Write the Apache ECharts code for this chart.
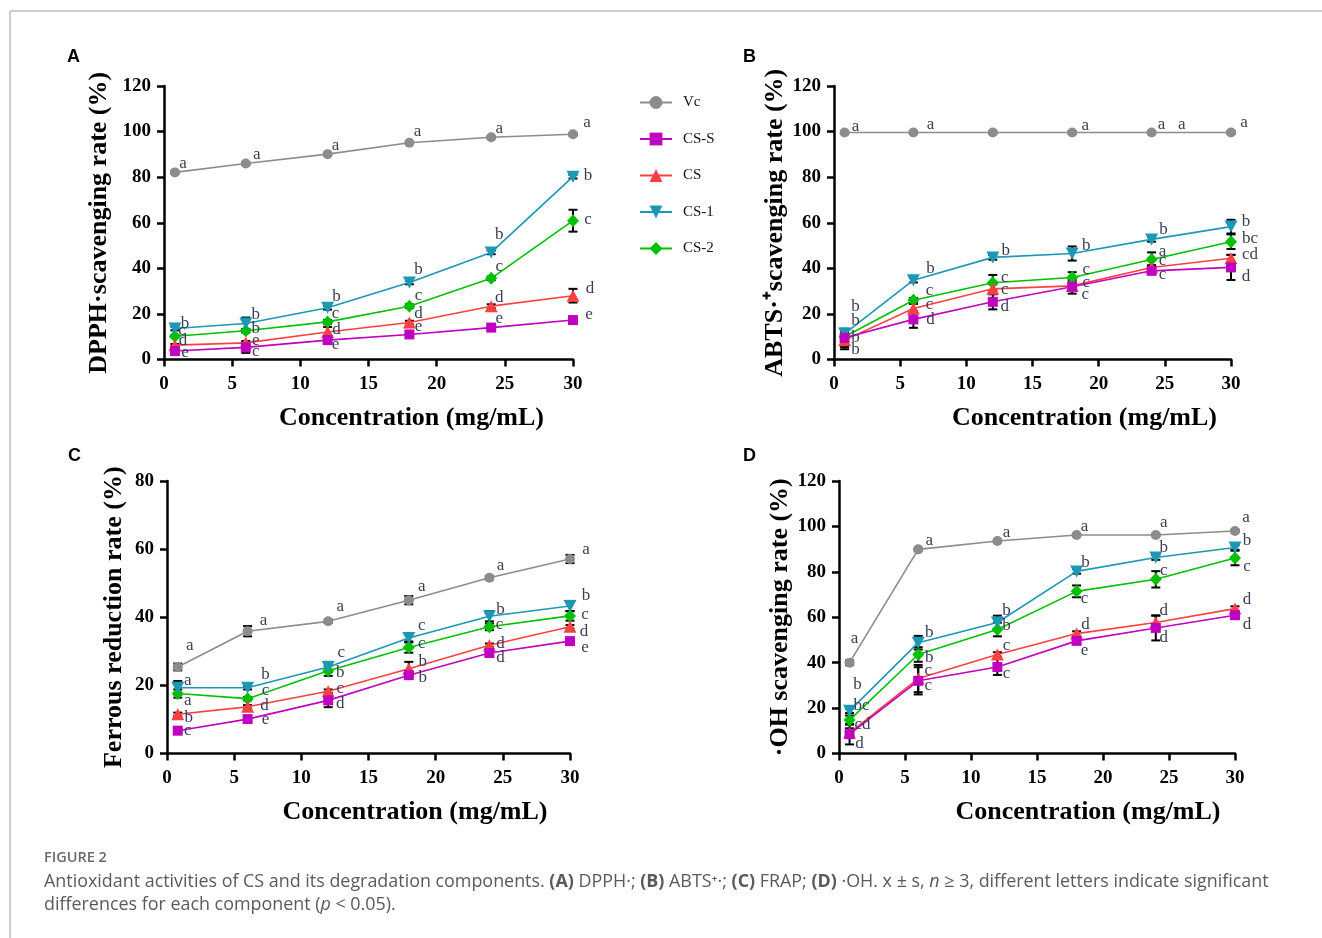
<!DOCTYPE html>
<html>
<head>
<meta charset="utf-8">
<script src="https://cdn.jsdelivr.net/npm/echarts@6/dist/echarts.min.js"></script>
<style>
html,body{margin:0;padding:0;background:#fff;}
#chart{width:1322px;height:938px;}
</style>
</head>
<body>
<div id="chart"></div>
<script>
// ---------- DATA ----------
const concentrations = [0.8, 6, 12, 18, 24, 30];
const seriesNames = ['Vc', 'CS-S', 'CS', 'CS-1', 'CS-2'];
const xTicks = [0, 5, 10, 15, 20, 25, 30];

// A: DPPH
const dpphVc  = [82.1, 86.0, 90.1, 95.1, 97.5, 98.8];
const dpphCSS = [3.7, 5.3, 8.5, 11.0, 14.0, 17.3];
const dpphCS  = [6.3, 7.3, 12.1, 16.2, 23.4, 28.0];
const dpphCS1 = [13.6, 15.8, 22.7, 33.8, 47.0, 80.2];
const dpphCS2 = [10.2, 12.6, 16.5, 23.4, 35.6, 60.9];
const dpphErrVc  = [0.5, 0.5, 0.5, 0.5, 0.5, 0.5];
const dpphErrCSS = [0.5, 2.4, 0.8, 0.5, 0.5, 0.5];
const dpphErrCS  = [0.5, 0.8, 2.2, 0.8, 0.8, 3.0];
const dpphErrCS1 = [0.8, 2.6, 0.8, 0.8, 0.8, 0.8];
const dpphErrCS2 = [0.5, 0.8, 0.8, 0.8, 0.8, 4.8];
const dpphLetVc  = ['a','a','a','a','a','a'];
const dpphLetCSS = ['e','c','e','e','e','e'];
const dpphLetCS  = ['d','e','d','d','d','d'];
const dpphLetCS1 = ['b','b','b','b','b','b'];
const dpphLetCS2 = ['c','b','c','c','c','c'];

// B: ABTS
const abtsVc  = [99.6, 99.6, 99.6, 99.6, 99.6, 99.6];
const abtsCSS = [9.5, 17.6, 25.3, 31.9, 38.9, 40.4];
const abtsCS  = [8.5, 22.4, 31.0, 32.3, 40.4, 44.4];
const abtsCS1 = [11.4, 34.8, 44.8, 46.5, 52.7, 58.3];
const abtsCS2 = [10.0, 26.0, 33.7, 36.0, 43.9, 51.7];
const abtsErrVc  = [0.5, 0.5, 0.5, 0.5, 0.5, 0.5];
const abtsErrCSS = [4.0, 3.7, 3.3, 3.0, 1.0, 5.5];
const abtsErrCS  = [4.0, 2.0, 2.0, 1.5, 1.0, 1.5];
const abtsErrCS1 = [2.0, 1.0, 1.0, 3.1, 1.0, 3.0];
const abtsErrCS2 = [2.0, 1.0, 3.4, 2.3, 3.1, 3.2];
const abtsLetVc  = ['a','a','','a','a   a','a'];
const abtsLetCSS = ['b','d','d','c','c','d'];
const abtsLetCS  = ['b','c','c','c','c','cd'];
const abtsLetCS1 = ['b','b','b','b','b','b'];
const abtsLetCS2 = ['b','c','c','c','a','bc'];

// C: FRAP
const frapVc  = [25.4, 35.9, 38.8, 45.0, 51.6, 57.1];
const frapCSS = [6.7, 10.1, 15.6, 23.0, 29.5, 33.0];
const frapCS  = [11.5, 13.7, 18.3, 24.9, 31.8, 37.2];
const frapCS1 = [19.3, 19.3, 25.4, 33.9, 40.3, 43.3];
const frapCS2 = [17.6, 16.1, 24.3, 31.1, 37.2, 40.4];
const frapErrVc  = [1.0, 1.5, 0.5, 1.2, 0.5, 1.2];
const frapErrCSS = [0.5, 0.5, 2.0, 0.5, 0.5, 0.5];
const frapErrCS  = [0.5, 0.5, 0.5, 2.0, 0.5, 0.5];
const frapErrCS1 = [2.0, 0.5, 1.5, 1.0, 1.5, 1.5];
const frapErrCS2 = [1.2, 0.5, 1.5, 1.5, 1.0, 1.4];
const frapLetVc  = ['a','a','a','a','a','a'];
const frapLetCSS = ['c','e','d','b','d','e'];
const frapLetCS  = ['b','d','c','b','d','d'];
const frapLetCS1 = ['a','b','c','c','b','b'];
const frapLetCS2 = ['a','c','b','c','c','c'];

// D: ·OH
const ohVc  = [40.0, 89.9, 93.6, 96.2, 96.2, 98.0];
const ohCSS = [8.5, 32.0, 38.1, 49.6, 55.3, 60.9];
const ohCS  = [9.1, 33.0, 43.6, 52.8, 57.7, 63.8];
const ohCS1 = [18.8, 48.8, 57.7, 80.2, 86.3, 90.7];
const ohCS2 = [14.7, 43.6, 54.6, 71.4, 76.7, 86.1];
const ohErrVc  = [1.0, 0.5, 0.5, 0.5, 0.5, 0.5];
const ohErrCSS = [4.5, 6.0, 3.5, 1.0, 5.5, 1.0];
const ohErrCS  = [2.0, 6.0, 1.0, 1.0, 3.0, 1.0];
const ohErrCS1 = [1.0, 3.0, 3.0, 1.0, 1.0, 1.0];
const ohErrCS2 = [2.0, 3.2, 3.0, 2.6, 3.6, 3.2];
const ohLetVc  = ['a','a','a','a','a','a'];
const ohLetCSS = ['d','c','c','e','d','d'];
const ohLetCS  = ['cd','c','c','d','d','d'];
const ohLetCS1 = ['b','b','b','b','b','b'];
const ohLetCS2 = ['bc','b','b','c','c','c'];

// ---------- LAYOUT / STYLE (letter offsets in px from point centre) ----------
const offA = {
  'Vc':   {dx:[8,11,8,8,8,14],  dy:[-9,-9,-9,-11,-9,-12]},
  'CS-S': {dx:[10,10,8,9,8,16], dy:[1,4,4,-8,-9,-6]},
  'CS':   {dx:[8,10,9,9,8,17],  dy:[-5,-2,-2,-9,-9,-7]},
  'CS-1': {dx:[10,10,9,9,8,15], dy:[-5,-9,-11,-13,-18,-1]},
  'CS-2': {dx:[7,10,8,9,8,15],  dy:[-6,-2,-8,-11,-12,-1]}
};
const offB = {
  'Vc':   {dx:[11,17,0,13,20,13], dy:[-6,-8,0,-7,-8,-10]},
  'CS-S': {dx:[11,17,12,13,11,15], dy:[12,0,5,8,4,9]},
  'CS':   {dx:[11,16,12,14,11,19], dy:[-3,-4,1,-3,-7,-4]},
  'CS-1': {dx:[11,17,13,14,12,15], dy:[-27,-12,-7,-8,-10,-5]},
  'CS-2': {dx:[11,16,12,14,11,19], dy:[-16,-10,-5,-8,-8,-3]}
};
const offC = {
  'Vc':   {dx:[12,16,12,13,11,16], dy:[-21,-11,-15,-14,-12,-9]},
  'CS-S': {dx:[10,18,12,14,11,15], dy:[0,0,3,2,5,6]},
  'CS':   {dx:[11,17,12,14,11,14], dy:[3,-1,-3,-7,-2,5]},
  'CS-1': {dx:[10,18,13,13,11,16], dy:[-7,-13,-14,-12,-7,-10]},
  'CS-2': {dx:[10,18,12,13,10,15], dy:[7,-8,2,-4,-2,-1]}
};
const offD = {
  'Vc':   {dx:[5,11,9,8,8,11],   dy:[-24,-9,-8,-9,-13,-13]},
  'CS-S': {dx:[10,10,9,8,8,12],  dy:[9,5,7,10,10,9]},
  'CS':   {dx:[13,10,9,9,8,12],  dy:[-8,-8,-9,-9,-12,-9]},
  'CS-1': {dx:[8,11,9,9,8,12],   dy:[-26,-10,-12,-9,-10,-7]},
  'CS-2': {dx:[12,11,9,8,8,12],  dy:[-15,3,-4,7,-9,9]}
};

const styles = {
  'Vc':   {color:'#8c8c8c', symbol:'circle',   size:10, rotate:0},
  'CS-S': {color:'#c000c0', symbol:'rect',     size:10, rotate:0},
  'CS':   {color:'#ff4040', symbol:'triangle', size:[13,12], rotate:0},
  'CS-1': {color:'#1a98b4', symbol:'triangle', size:[13,12], rotate:180},
  'CS-2': {color:'#00c000', symbol:'diamond',  size:[12,13], rotate:0}
};

const panels = [
  {vals:{'Vc':dpphVc,'CS-S':dpphCSS,'CS':dpphCS,'CS-1':dpphCS1,'CS-2':dpphCS2},
   errs:{'Vc':dpphErrVc,'CS-S':dpphErrCSS,'CS':dpphErrCS,'CS-1':dpphErrCS1,'CS-2':dpphErrCS2},
   lets:{'Vc':dpphLetVc,'CS-S':dpphLetCSS,'CS':dpphLetCS,'CS-1':dpphLetCS1,'CS-2':dpphLetCS2},
   off:offA, yMax:120, yName:'DPPH·scavenging rate (%)', yGap:52, xShift:86,
   grid:{left:164, top:86, width:409, height:273.5}},
  {vals:{'Vc':abtsVc,'CS-S':abtsCSS,'CS':abtsCS,'CS-1':abtsCS1,'CS-2':abtsCS2},
   errs:{'Vc':abtsErrVc,'CS-S':abtsErrCSS,'CS':abtsErrCS,'CS-1':abtsErrCS1,'CS-2':abtsErrCS2},
   lets:{'Vc':abtsLetVc,'CS-S':abtsLetCSS,'CS':abtsLetCS,'CS-1':abtsLetCS1,'CS-2':abtsLetCS2},
   off:offB, yMax:120, yName:'ABTS·\u207Ascavenging rate (%)', yGap:46, xShift:104,
   grid:{left:834, top:86, width:397, height:273.5}},
  {vals:{'Vc':frapVc,'CS-S':frapCSS,'CS':frapCS,'CS-1':frapCS1,'CS-2':frapCS2},
   errs:{'Vc':frapErrVc,'CS-S':frapErrCSS,'CS':frapErrCS,'CS-1':frapErrCS1,'CS-2':frapErrCS2},
   lets:{'Vc':frapLetVc,'CS-S':frapLetCSS,'CS':frapLetCS,'CS-1':frapLetCS1,'CS-2':frapLetCS2},
   off:offC, yMax:80, yName:'Ferrous reduction rate (%)', yGap:40, xShift:93,
   grid:{left:167, top:481, width:403, height:272.5}},
  {vals:{'Vc':ohVc,'CS-S':ohCSS,'CS':ohCS,'CS-1':ohCS1,'CS-2':ohCS2},
   errs:{'Vc':ohErrVc,'CS-S':ohErrCSS,'CS':ohErrCS,'CS-1':ohErrCS1,'CS-2':ohErrCS2},
   lets:{'Vc':ohLetVc,'CS-S':ohLetCSS,'CS':ohLetCS,'CS-1':ohLetCS1,'CS-2':ohLetCS2},
   off:offD, yMax:120, yName:'·OH scavenging rate (%)', yGap:46, xShift:102,
   grid:{left:839, top:481, width:396, height:272.5}}
];

const SERIF = '"Liberation Serif","Times New Roman",serif';
const drawOrder = ['Vc', 'CS-2', 'CS-1', 'CS', 'CS-S'];

const grids = [], xAxes = [], yAxes = [], series = [];
panels.forEach((p, pi) => {
  grids.push(Object.assign({containLabel:false}, p.grid));
  const axisCommon = {
    axisLine:{show:true, onZero:false, lineStyle:{color:'#000', width:2.5}},
    axisTick:{show:true, inside:false, length:7, lineStyle:{color:'#000', width:2.5}},
    splitLine:{show:false}
  };
  xAxes.push(Object.assign({}, axisCommon, {
    type:'value', gridIndex:pi, min:0, max:30, interval:5,
    name:'Concentration (mg/mL)', nameLocation:'middle', nameGap:46,
    nameTextStyle:{fontFamily:SERIF, fontWeight:'bold', fontSize:26, color:'#000',
      padding:[0,0,0,p.xShift]},
    axisLabel:{fontFamily:SERIF, fontWeight:'bold', fontSize:19, color:'#000', margin:15,
      formatter: v => xTicks.includes(v) ? String(v) : ''}
  }));
  yAxes.push(Object.assign({}, axisCommon, {
    type:'value', gridIndex:pi, min:0, max:p.yMax, interval:20,
    name:p.yName, nameLocation:'middle', nameGap:p.yGap, nameRotate:90,
    nameTextStyle:{fontFamily:SERIF, fontWeight:'bold', fontSize:26, color:'#000'},
    axisLabel:{fontFamily:SERIF, fontWeight:'bold', fontSize:19, color:'#000', margin:13}
  }));
  // error bars
  drawOrder.forEach(name => {
    const vals = p.vals[name], errs = p.errs[name];
    series.push({
      type:'custom', xAxisIndex:pi, yAxisIndex:pi, z:1, silent:true,
      data: concentrations.map((x, i) => [x, vals[i], errs[i]]),
      renderItem: (params, api) => {
        const x = api.value(0), y = api.value(1), e = api.value(2);
        const t = api.coord([x, y + e]), b = api.coord([x, y - e]);
        const w = 4.5;
        const st = {stroke:'#000', lineWidth:2};
        return {type:'group', children:[
          {type:'line', shape:{x1:t[0], y1:t[1], x2:b[0], y2:b[1]}, style:st},
          {type:'line', shape:{x1:t[0]-w, y1:t[1], x2:t[0]+w, y2:t[1]}, style:st},
          {type:'line', shape:{x1:b[0]-w, y1:b[1], x2:b[0]+w, y2:b[1]}, style:st}
        ]};
      }
    });
  });
  // lines with letters
  drawOrder.forEach(name => {
    const st = styles[name];
    const vals = p.vals[name], lets = p.lets[name], off = p.off[name];
    series.push({
      type:'line', name:name, xAxisIndex:pi, yAxisIndex:pi, z:3,
      symbol:st.symbol, symbolSize:st.size, symbolRotate:st.rotate, showAllSymbol:true,
      lineStyle:{color:st.color, width:1.6},
      itemStyle:{color:st.color},
      emphasis:{disabled:true},
      animation:false,
      label:{show:true, position:'inside', align:'center', verticalAlign:'middle',
        fontFamily:SERIF, fontSize:17, color:'#3c3c58',
        formatter: params => lets[params.dataIndex]},
      data: concentrations.map((x, i) => ({
        value:[x, vals[i]],
        label:{offset:[off.dx[i], off.dy[i]]}
      }))
    });
  });
});

const captionLine1 = 'Antioxidant activities of CS and its degradation components. {b|(A)} DPPH·; {b|(B)} ABTS\u207A·; {b|(C)} FRAP; {b|(D)} ·OH. x \u00B1 s, {i|n} \u2265 3, different letters indicate significant';
const captionLine2 = 'differences for each component ({i|p} < 0.05).';
const SANS = '"Open Sans","Noto Sans",sans-serif';

const option = {
  backgroundColor:'#fff',
  animation:false,
  grid: grids,
  xAxis: xAxes,
  yAxis: yAxes,
  legend: {
    data: seriesNames, orient:'vertical', left:634, top:90,
    itemWidth:32, itemHeight:16, itemGap:21.5,
    textStyle:{fontFamily:SERIF, fontSize:15, color:'#111', padding:[0,0,0,6]},
    selectedMode:false
  },
  series: series,
  graphic: [
    {type:'line', shape:{x1:10, y1:11, x2:1322, y2:11}, style:{stroke:'#bdbdbd', lineWidth:1.5}},
    {type:'line', shape:{x1:10, y1:11, x2:10, y2:938}, style:{stroke:'#bdbdbd', lineWidth:1.5}},
    {type:'text', left:67, top:48, style:{text:'A', font:'bold 18px "Liberation Sans",Arial,sans-serif', fill:'#000'}},
    {type:'text', left:743, top:48, style:{text:'B', font:'bold 18px "Liberation Sans",Arial,sans-serif', fill:'#000'}},
    {type:'text', left:68, top:447, style:{text:'C', font:'bold 18px "Liberation Sans",Arial,sans-serif', fill:'#000'}},
    {type:'text', left:743, top:447, style:{text:'D', font:'bold 18px "Liberation Sans",Arial,sans-serif', fill:'#000'}},
    {type:'text', left:44, top:850, style:{text:'FIGURE 2', font:'600 14.5px '+SANS, fill:'#6a6a6a'}},
    {type:'text', left:44, top:870, style:{
      text: captionLine1 + '\n' + captionLine2,
      font:'17.9px '+SANS, fill:'#5a5a5a', lineHeight:23,
      rich:{
        b:{fontFamily:SANS, fontSize:17.9, fontWeight:'bold', fill:'#5a5a5a', lineHeight:23},
        i:{fontFamily:SANS, fontSize:17.9, fontStyle:'italic', fill:'#5a5a5a', lineHeight:23}
      }
    }}
  ]
};

const chart = echarts.init(document.getElementById('chart'), null, {renderer:'canvas'});
chart.setOption(option);
</script>
</body>
</html>
